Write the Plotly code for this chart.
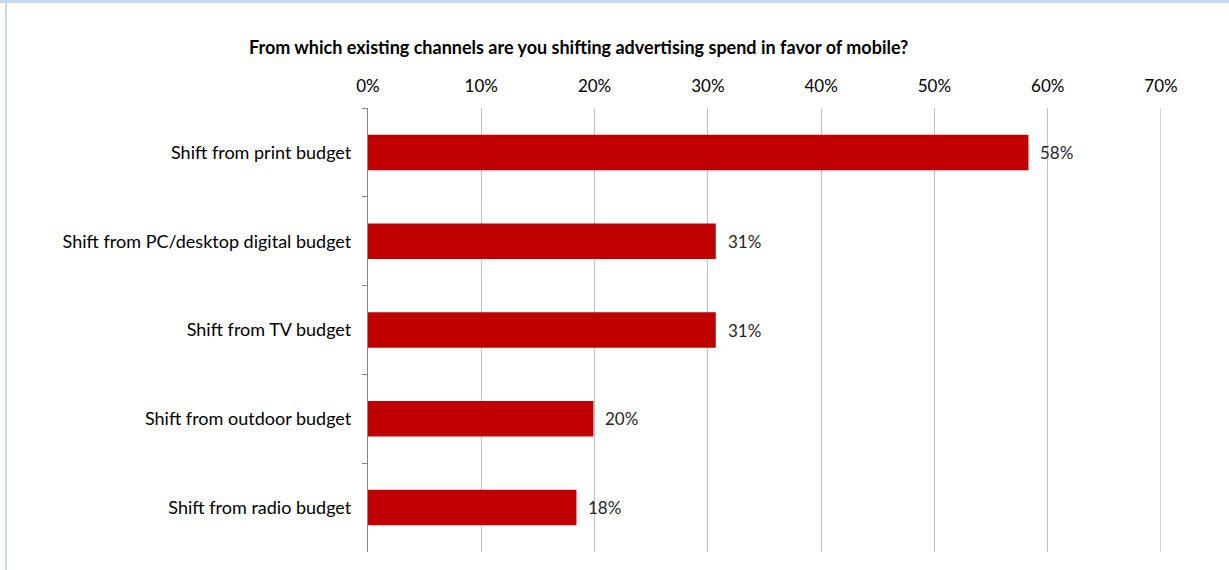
import plotly.graph_objects as go

categories = [
    "Shift from print budget",
    "Shift from PC/desktop digital budget",
    "Shift from TV budget",
    "Shift from outdoor budget",
    "Shift from radio budget",
]
values = [0.583, 0.307, 0.307, 0.199, 0.184]
labels = ["58%", "31%", "31%", "20%", "18%"]
tick_values = [0, 0.1, 0.2, 0.3, 0.4, 0.5, 0.6, 0.7]
title_text = "From which existing channels are you shifting advertising spend in favor of mobile?"

FONT = "Lato"
L, R, T, B = 368, 68, 108, 18
PW, PH = 1229 - L - R, 570 - T - B

fig = go.Figure(
    go.Bar(
        x=values,
        y=categories,
        orientation="h",
        marker=dict(color="#c00000", line=dict(width=0)),
        width=0.4,
        hoverinfo="skip",
    )
)

annotations = [
    dict(text="<b>" + title_text + "</b>", xref="paper", yref="paper",
         x=(578 - L) / PW, y=(570 - B - 47) / PH, xanchor="center", yanchor="middle",
         showarrow=False, font=dict(family=FONT, size=18, color="#000000")),
]
for v, c, lab in zip(values, categories, labels):
    annotations.append(dict(x=v, y=c, xref="x", yref="y", text=lab, showarrow=False,
                            xanchor="left", yanchor="middle", xshift=10,
                            font=dict(family=FONT, size=17, color="#262626")))

fig.update_layout(
    width=1229,
    height=570,
    margin=dict(l=L, r=R, t=T, b=B),
    paper_bgcolor="white",
    plot_bgcolor="white",
    showlegend=False,
    font=dict(family=FONT, size=18, color="#000000"),
    xaxis=dict(
        range=[tick_values[0], tick_values[-1]],
        side="top",
        tickvals=tick_values,
        tickformat=".0%",
        showgrid=True,
        gridcolor="#bfbfbf",
        gridwidth=1.3,
        zeroline=False,
        showline=False,
        ticks="",
        ticklabelstandoff=12,
        tickfont=dict(family=FONT, size=17, color="#000000"),
        fixedrange=True,
    ),
    yaxis=dict(
        autorange="reversed",
        type="category",
        showline=True,
        linecolor="#868686",
        linewidth=1.3,
        ticks="outside",
        tickson="boundaries",
        ticklen=5,
        tickcolor="#868686",
        tickwidth=1.3,
        showgrid=False,
        ticklabelstandoff=12,
        tickfont=dict(family=FONT, size=18, color="#000000"),
        fixedrange=True,
    ),
    shapes=[
        dict(type="line", xref="x", yref="paper", x0=tick_values[-1], x1=tick_values[-1],
             y0=0, y1=1, line=dict(color="#bfbfbf", width=1.3), layer="below"),
        dict(type="rect", xref="paper", yref="paper", x0=-L / PW, x1=(1229 - L) / PW,
             y0=(570 - B - 3) / PH, y1=(570 - B) / PH + 5 / PH, fillcolor="#c6d9f1",
             line=dict(width=0), layer="below"),
        dict(type="rect", xref="paper", yref="paper", x0=-(L - 5) / PW, x1=-(L - 7) / PW,
             y0=-B / PH, y1=(570 - B) / PH, fillcolor="#c6d9f1", line=dict(width=0), layer="below"),
    ],
    annotations=annotations,
)

fig.write_html(
    "out.html",
    config={"displayModeBar": False},
    post_script="document.body.style.margin='0';document.body.style.overflow='hidden';",
)
